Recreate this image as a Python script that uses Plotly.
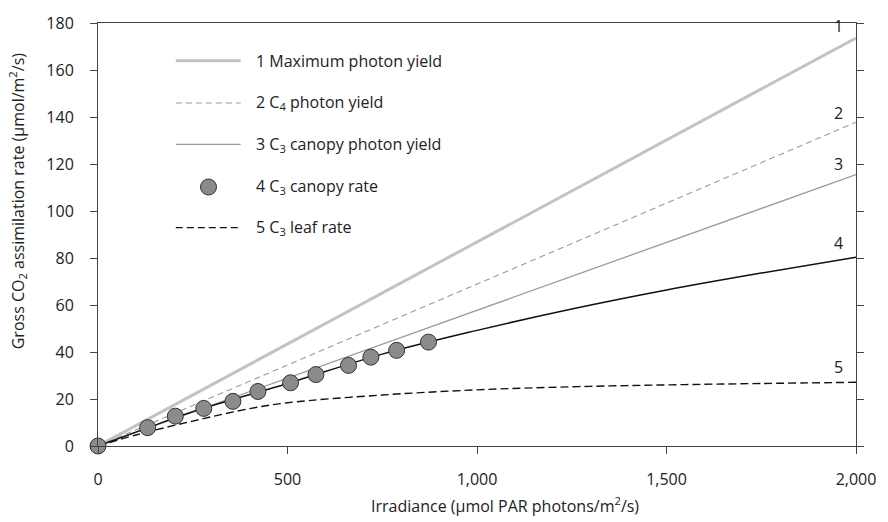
import plotly.graph_objects as go

# ---- data ----
x_line = [0, 2000]
max_photon_yield = [0, 173.6]
c4_photon_yield = [0, 137.8]
c3_canopy_photon_yield = [0, 115.5]

canopy_curve_x = [0, 130, 250, 500, 750, 1000, 1250, 1500, 1750, 2000]
canopy_curve_y = [0, 7.7, 14.6, 26.6, 39.1, 49.2, 58.3, 66.4, 73.6, 80.3]

canopy_pts_x = [0, 131, 204, 279, 356, 422, 508, 575, 661, 720, 788, 872]
canopy_pts_y = [0, 7.8, 12.7, 16.0, 19.0, 23.2, 26.9, 30.4, 34.3, 37.8, 40.7, 44.2]

leaf_x = [0, 100, 250, 400, 500, 750, 1000, 1250, 1500, 1750, 2000]
leaf_y = [0, 4.7, 10.6, 15.9, 18.4, 21.7, 23.9, 25.2, 26.0, 26.6, 27.1]

x_ticks = [0, 500, 1000, 1500, 2000]
x_ticklabels = ["0", "500", "1,000", "1,500", "2,000"]
y_ticks = [0, 20, 40, 60, 80, 100, 120, 140, 160, 180]
y_ticklabels = [str(v) for v in y_ticks]

legend_names = ["1 Maximum photon yield", "2 C<sub>4</sub> photon yield",
                "3 C<sub>3</sub> canopy photon yield", "4 C<sub>3</sub> canopy rate",
                "5 C<sub>3</sub> leaf rate"]
end_labels = ["1", "2", "3", "4", "5"]

FONT = "Open Sans"
FS = 16
C1 = "#c2c3c7"
C23 = "#9a9a9a"
CK = "#111111"

fig = go.Figure()
fig.add_trace(go.Scatter(x=x_line, y=max_photon_yield, mode="lines",
                         line=dict(color=C1, width=3), showlegend=False, cliponaxis=False))
fig.add_trace(go.Scatter(x=x_line, y=c4_photon_yield, mode="lines",
                         line=dict(color=C23, width=1.1, dash="6px,4px"), showlegend=False))
fig.add_trace(go.Scatter(x=x_line, y=c3_canopy_photon_yield, mode="lines",
                         line=dict(color=C23, width=1.3), showlegend=False))
fig.add_trace(go.Scatter(x=leaf_x, y=leaf_y, mode="lines", line_shape="spline",
                         line=dict(color=CK, width=1.4, dash="8px,4px"), showlegend=False))
fig.add_trace(go.Scatter(x=canopy_curve_x, y=canopy_curve_y, mode="lines", line_shape="spline",
                         line=dict(color=CK, width=1.5), showlegend=False))
fig.add_trace(go.Scatter(x=canopy_pts_x, y=canopy_pts_y, mode="markers", cliponaxis=False,
                         marker=dict(size=16, color="#8b8b8e", line=dict(color="#333333", width=1)),
                         showlegend=False))

# ---- plot geometry (pixels) ----
L, R, T, B = 98, 30, 16, 76
W, H = 888, 522
pw, ph = W - L - R, H - T - B

def px(xp):
    return (xp - L) / pw

def py(yp):
    return (H - B - yp) / ph

shapes = []
annotations = []
rows = [54.3, 97.3, 139.3, 182.7, 224.0]
styles = [dict(color=C1, width=3), dict(color=C23, width=1.1, dash="6px,4px"),
          dict(color=C23, width=1.3), None, dict(color=CK, width=1.4, dash="7px,4px")]
for i, (name, yr) in enumerate(zip(legend_names, rows)):
    if styles[i] is not None:
        shapes.append(dict(type="line", xref="paper", yref="paper",
                           x0=px(176), x1=px(241), y0=py(yr), y1=py(yr), line=styles[i]))
    else:
        shapes.append(dict(type="circle", xref="paper", yref="paper",
                           xsizemode="pixel", ysizemode="pixel",
                           xanchor=px(208.8), yanchor=py(yr), x0=-8, x1=8, y0=-8, y1=8,
                           fillcolor="#8b8b8e", line=dict(color="#333333", width=1)))
    annotations.append(dict(xref="paper", yref="paper", x=px(254), y=py(yr),
                            xanchor="left", yanchor="middle", showarrow=False,
                            text=name, font=dict(family=FONT, size=FS, color="#222")))

end_vals = [max_photon_yield[-1], c4_photon_yield[-1], c3_canopy_photon_yield[-1],
            canopy_curve_y[-1], leaf_y[-1]]
shifts = [12, 9, 11, 14, 15]
for lab, v, s in zip(end_labels, end_vals, shifts):
    annotations.append(dict(x=1955, y=v, xref="x", yref="y", yshift=s, showarrow=False,
                            xanchor="center", yanchor="middle", text=lab,
                            font=dict(family=FONT, size=FS, color="#222")))

# axis titles
annotations.append(dict(xref="paper", yref="paper", x=px(506), y=py(506),
                        xanchor="center", yanchor="middle", showarrow=False,
                        text="Irradiance (µmol PAR photons/m<sup>2</sup>/s)",
                        font=dict(family=FONT, size=FS, color="#222")))
annotations.append(dict(xref="paper", yref="paper", x=px(17), y=py(197),
                        xanchor="center", yanchor="middle", showarrow=False, textangle=-90,
                        text="Gross CO<sub>2</sub> assimilation rate (µmol/m<sup>2</sup>/s)",
                        font=dict(family=FONT, size=FS, color="#222")))

axis_common = dict(showline=True, linecolor="#444", linewidth=1, ticks="outside",
                   ticklen=7, tickcolor="#444", tickwidth=1, showgrid=False, zeroline=False,
                   tickfont=dict(family=FONT, size=FS, color="#222"))

fig.update_layout(
    width=W, height=H, margin=dict(l=L, r=R, t=T, b=B),
    paper_bgcolor="white", plot_bgcolor="white", showlegend=False,
    xaxis=dict(range=[0, 2000], tickvals=x_ticks, ticktext=x_ticklabels, mirror=True,
               ticklabelstandoff=12, **axis_common),
    yaxis=dict(range=[0, 180], tickvals=y_ticks, ticktext=y_ticklabels, mirror="ticks",
               ticklabelstandoff=13, **axis_common),
    shapes=shapes, annotations=annotations,
)

fig.write_html("out.html")
